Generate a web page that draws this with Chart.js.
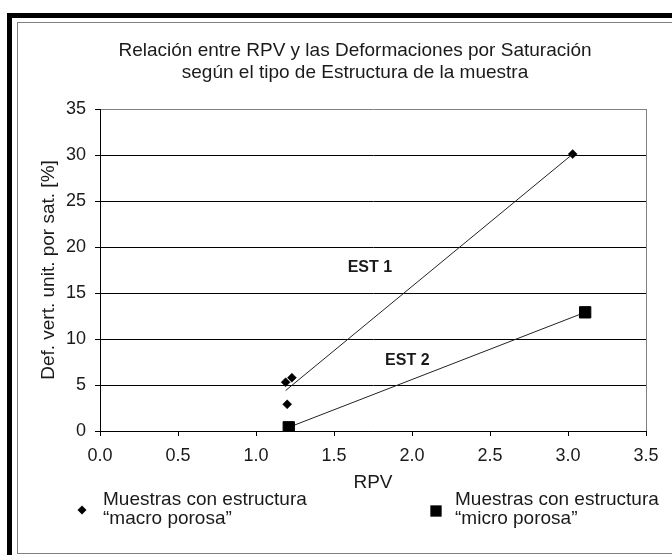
<!DOCTYPE html>
<html><head><meta charset="utf-8">
<script src="https://cdn.jsdelivr.net/npm/chart.js@4.4.1/dist/chart.umd.min.js"></script>
<style>
html,body{margin:0;padding:0;background:#fff;overflow:hidden;width:672px;height:555px}
#f1{position:absolute;left:7px;top:13px;width:720px;height:600px;border-left:5px solid #000;border-top:5px solid #000;box-sizing:border-box}
#f2{position:absolute;left:17px;top:22px;width:720px;height:532px;border:1px solid #808080;box-sizing:border-box}
canvas{position:absolute;left:0;top:0}
</style></head><body>
<div id="f1"></div><div id="f2"></div>
<canvas id="c" width="672" height="555"></canvas>
<script>
const titleLines = ['Relación entre RPV y las Deformaciones por Saturación', 'según el tipo de Estructura de la muestra'];
const xTitle = 'RPV';
const yTitle = 'Def. vert. unit. por sat. [%]';
const xTicks = [0, 0.5, 1.0, 1.5, 2.0, 2.5, 3.0, 3.5];
const yTicks = [0, 5, 10, 15, 20, 25, 30, 35];
const macroX = [1.19, 1.23, 1.20, 3.03];
const macroY = [5.3, 5.8, 2.9, 30.1];
const microX = [1.21, 3.11];
const microY = [0.4, 12.9];
const est1X = [1.19, 3.03];
const est1Y = [4.4, 30.1];
const estLabels = ['EST 1', 'EST 2'];
const estLabelX = [1.73, 1.97];
const estLabelY = [17.8, 7.7];
const legendLines = [['Muestras con estructura', '\u201cmacro porosa\u201d'], ['Muestras con estructura', '\u201cmicro porosa\u201d']];

const FONT = '"Liberation Sans", Arial, sans-serif';
const TXT = '#1a1a1a';
const pts = (xs, ys) => xs.map((x, i) => ({x: x, y: ys[i]}));

const overlay = {
  id: 'overlay',
  afterDatasetsDraw(chart) {
    const {ctx, chartArea} = chart;
    const x = chart.scales.x, y = chart.scales.y;
    ctx.save();
    ctx.fillStyle = TXT;
    ctx.font = 'bold 16px ' + FONT;
    ctx.textAlign = 'center';
    ctx.textBaseline = 'middle';
    estLabels.forEach((t, i) => ctx.fillText(t, x.getPixelForValue(estLabelX[i]), y.getPixelForValue(estLabelY[i])));
    // legend
    const ds = chart.data.datasets;
    const items = [{d: ds[1], mx: 82, tx: 103, my: 79}, {d: ds[2], mx: 436, tx: 455, my: 80}];
    const l1 = chartArea.bottom + 69, l2 = chartArea.bottom + 88;
    ctx.font = '19px ' + FONT;
    ctx.textAlign = 'left';
    items.forEach((it, i) => {
      const my = chartArea.bottom + it.my;
      ctx.fillStyle = it.d.pointBackgroundColor;
      const r = it.d.pointRadius;
      ctx.beginPath();
      if (it.d.pointStyle === 'rectRot') {
        ctx.moveTo(it.mx - r, my); ctx.lineTo(it.mx, my - r); ctx.lineTo(it.mx + r, my); ctx.lineTo(it.mx, my + r); ctx.closePath();
      } else {
        const s = r * Math.SQRT1_2;
        ctx.rect(it.mx - s, my - s, 2 * s, 2 * s);
      }
      ctx.fill();
      ctx.fillStyle = TXT;
      ctx.fillText(legendLines[i][0], it.tx, l1);
      ctx.fillText(legendLines[i][1], it.tx, l2);
    });
    ctx.restore();
  }
};

new Chart(document.getElementById('c'), {
  type: 'scatter',
  data: {
    datasets: [
      {label: 'EST 1', data: pts(est1X, est1Y), showLine: true, borderColor: '#222', borderWidth: 1, pointRadius: 0, pointHoverRadius: 0},
      {label: 'macro porosa', data: pts(macroX, macroY), pointStyle: 'rectRot', pointRadius: 4.5, pointBackgroundColor: '#000', pointBorderColor: '#000', pointBorderWidth: 0.5, showLine: false},
      {label: 'micro porosa', data: pts(microX, microY), pointStyle: 'rect', pointRadius: 8, pointBackgroundColor: '#000', pointBorderColor: '#000', pointBorderWidth: 1, showLine: true, borderColor: '#222', borderWidth: 1}
    ]
  },
  options: {
    responsive: false, animation: false, devicePixelRatio: 1,
    layout: {padding: {left: 64, right: 26, top: 0, bottom: 61}},
    plugins: {
      legend: {display: false}, tooltip: {enabled: false},
      title: {display: true, text: titleLines, color: TXT, font: {family: FONT, size: 19, weight: 'normal', lineHeight: 22 / 19}, padding: {top: 40, bottom: 25}}
    },
    scales: {
      x: {
        type: 'linear', min: 0, max: 3.5,
        afterBuildTicks: s => { s.ticks = xTicks.map(v => ({value: v})); },
        ticks: {callback: v => Number(v).toFixed(1), color: TXT, font: {family: FONT, size: 18}, padding: 9, maxRotation: 0, autoSkip: false},
        grid: {color: c => (c.tick && c.tick.value === 3.5) ? '#808080' : 'rgba(0,0,0,0)', tickColor: '#000', tickLength: 5, lineWidth: 1},
        border: {color: '#000', width: 1},
        title: {display: true, text: xTitle, color: TXT, font: {family: FONT, size: 19}, padding: {top: 0, bottom: 0}},
        afterFit: s => { s.height = 63; }
      },
      y: {
        type: 'linear', min: 0, max: 35,
        afterBuildTicks: s => { s.ticks = yTicks.map(v => ({value: v})); },
        ticks: {color: TXT, font: {family: FONT, size: 18}, padding: 9},
        grid: {color: c => (c.tick && c.tick.value === 35) ? '#808080' : '#000', tickColor: '#000', tickLength: 5, lineWidth: 1},
        border: {color: '#000', width: 1},
        title: {display: true, text: yTitle, color: TXT, font: {family: FONT, size: 19}, padding: {top: -27, bottom: 0}},
        afterFit: s => { s.width = 36; }
      }
    }
  },
  plugins: [overlay]
});
</script>
</body></html>
